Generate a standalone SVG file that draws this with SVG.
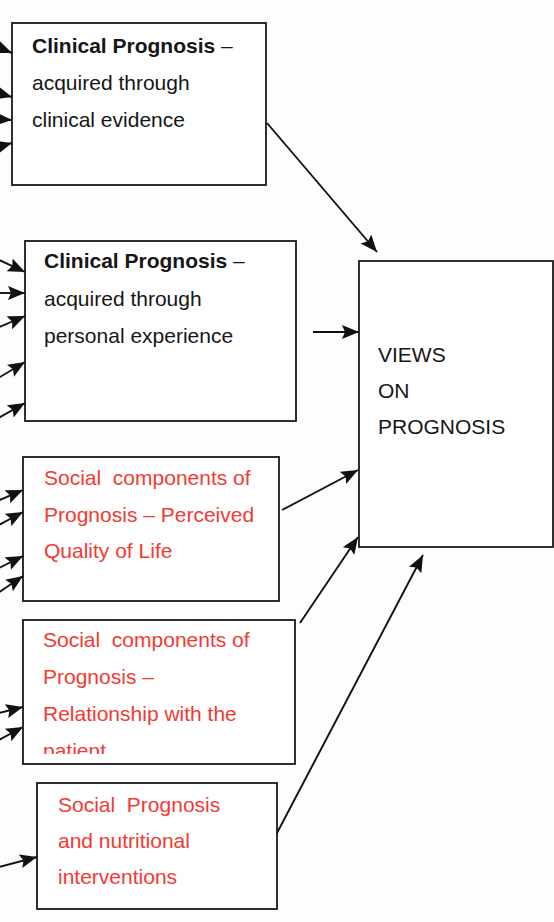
<svg xmlns="http://www.w3.org/2000/svg" width="554" height="922" viewBox="0 0 554 922">
<style>
.box{fill:#fff;stroke:#1a1a1a;stroke-width:1.8}
.t{font-family:"Liberation Sans",Arial,sans-serif;font-size:21px;fill:#161616;white-space:pre}
.b{font-weight:bold}
.r{fill:#f23a32}
.c{stroke:#111;stroke-width:1.9;fill:none;marker-end:url(#ah)}
</style>
<defs>
<marker id="ah" markerUnits="userSpaceOnUse" markerWidth="19" markerHeight="15" refX="17" refY="7" orient="auto">
<path d="M0,0 L17,7 L0,14 L3,7 z" fill="#111"/>
</marker>
<clipPath id="clip4"><rect x="23" y="620" width="272" height="134"/></clipPath>
</defs>
<rect width="554" height="922" fill="#fdfdfd"/>
<g id="n1">
<rect class="box" x="12" y="23" width="254" height="162"/>
<text class="t b" x="32" y="53">Clinical Prognosis <tspan font-weight="normal">–</tspan></text>
<text class="t" x="32" y="90">acquired through</text>
<text class="t" x="32" y="127">clinical evidence</text>
</g>
<g id="n2">
<rect class="box" x="25" y="241" width="271" height="180"/>
<text class="t b" x="44" y="268">Clinical Prognosis <tspan font-weight="normal">–</tspan></text>
<text class="t" x="44" y="306">acquired through</text>
<text class="t" x="44" y="343">personal experience</text>
</g>
<g id="n3">
<rect class="box" x="23" y="457" width="256" height="144"/>
<text class="t r" x="44" y="485">Social  components of</text>
<text class="t r" x="44" y="522">Prognosis – Perceived</text>
<text class="t r" x="44" y="558">Quality of Life</text>
</g>
<g id="n4">
<rect class="box" x="23" y="620" width="272" height="144"/>
<text class="t r" x="43" y="647">Social  components of</text>
<text class="t r" x="43" y="684">Prognosis –</text>
<text class="t r" x="43" y="721">Relationship with the</text>
<text class="t r" x="43" y="758" clip-path="url(#clip4)">patient</text>
</g>
<g id="n5">
<rect class="box" x="37" y="783" width="240" height="126"/>
<text class="t r" x="58" y="812">Social  Prognosis</text>
<text class="t r" x="58" y="848">and nutritional</text>
<text class="t r" x="58" y="884">interventions</text>
</g>
<g id="views">
<rect class="box" x="359" y="261" width="194" height="286"/>
<text class="t" x="378" y="362">VIEWS</text>
<text class="t" x="378" y="398">ON</text>
<text class="t" x="378" y="434">PROGNOSIS</text>
</g>
<g id="connectors">
<line class="c" x1="-20" y1="40" x2="12" y2="53"/>
<line class="c" x1="-20" y1="88" x2="12" y2="97"/>
<line class="c" x1="-20" y1="118" x2="12" y2="120"/>
<line class="c" x1="-20" y1="152" x2="12" y2="143"/>
<line class="c" x1="-5" y1="258" x2="25" y2="272"/>
<line class="c" x1="-5" y1="293" x2="25" y2="293"/>
<line class="c" x1="-5" y1="329" x2="25" y2="316"/>
<line class="c" x1="-5" y1="380" x2="25" y2="362"/>
<line class="c" x1="-5" y1="420" x2="25" y2="403"/>
<line class="c" x1="-5" y1="502" x2="23" y2="490"/>
<line class="c" x1="-5" y1="527" x2="23" y2="512"/>
<line class="c" x1="-5" y1="570" x2="23" y2="556"/>
<line class="c" x1="-5" y1="595" x2="23" y2="576"/>
<line class="c" x1="-5" y1="714" x2="23" y2="707"/>
<line class="c" x1="-5" y1="742" x2="23" y2="727"/>
<line class="c" x1="-5" y1="868" x2="37" y2="857"/>
<line class="c" x1="267" y1="123" x2="377" y2="252"/>
<line class="c" x1="313" y1="332" x2="359" y2="332"/>
<line class="c" x1="282" y1="510" x2="358" y2="470"/>
<line class="c" x1="300" y1="623" x2="358" y2="537"/>
<line class="c" x1="277" y1="833" x2="423" y2="555"/>
</g>
</svg>
